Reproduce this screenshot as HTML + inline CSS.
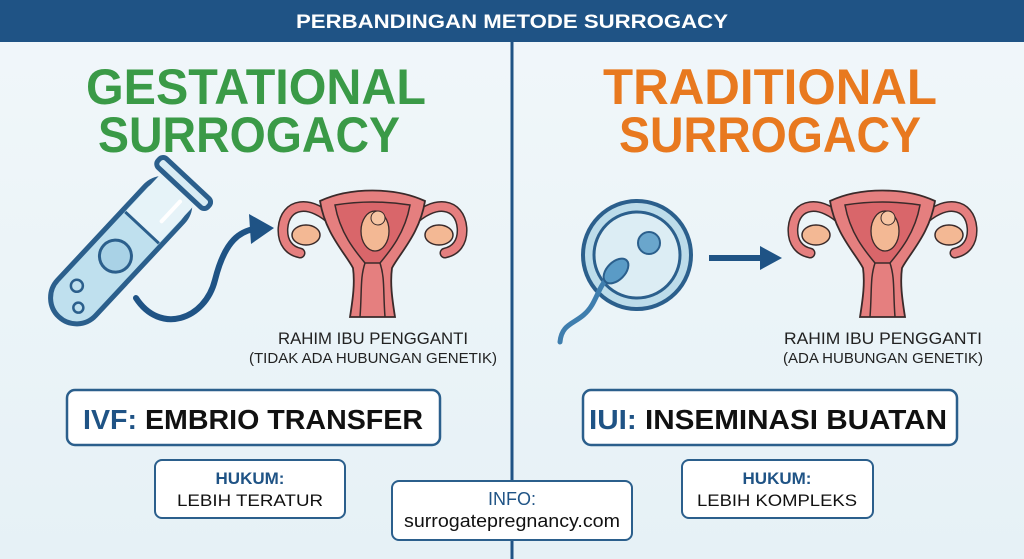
<!DOCTYPE html>
<html><head><meta charset="utf-8"><style>
html,body{margin:0;padding:0;width:1024px;height:559px;overflow:hidden;background:#eef5f9}
svg{display:block}
text{font-family:"Liberation Sans",sans-serif}
</style></head><body>
<svg width="1024" height="559" viewBox="0 0 1024 559" xmlns="http://www.w3.org/2000/svg">
<defs>
<linearGradient id="bg" x1="0" y1="0" x2="0" y2="1"><stop offset="0" stop-color="#f1f7fa"/><stop offset="1" stop-color="#e6f1f6"/></linearGradient>
<g id="uterus">
 <path d="M55,40 C30,15 5,20 3,45 C2,60 10,68 20,70" fill="none" stroke="#3a2a2a" stroke-width="11" stroke-linecap="round"/>
 <path d="M55,40 C30,15 5,20 3,45 C2,60 10,68 20,70" fill="none" stroke="#e57f7f" stroke-width="8" stroke-linecap="round"/>
 <path d="M130,40 C155,15 180,20 182,45 C183,60 175,68 165,70" fill="none" stroke="#3a2a2a" stroke-width="11" stroke-linecap="round"/>
 <path d="M130,40 C155,15 180,20 182,45 C183,60 175,68 165,70" fill="none" stroke="#e57f7f" stroke-width="8" stroke-linecap="round"/>
 <ellipse cx="26" cy="52" rx="14" ry="10" fill="#f3b894" stroke="#3a2a2a" stroke-width="1.5"/>
 <ellipse cx="159" cy="52" rx="14" ry="10" fill="#f3b894" stroke="#3a2a2a" stroke-width="1.5"/>
 <path d="M40,18 C70,4 115,4 145,18 C140,50 120,70 112,85 C110,100 112,115 115,134 L70,134 C73,115 75,100 73,85 C65,70 45,50 40,18 Z" fill="#e57f7f" stroke="#3a2a2a" stroke-width="1.8"/>
 <path d="M55,22 C80,18 105,18 130,22 C125,50 110,68 100,80 L85,80 C75,68 60,50 55,22Z" fill="#d9666a" stroke="#3a2a2a" stroke-width="1.5"/>
 <path d="M85,80 C80,95 82,108 80,134 M100,80 C105,95 103,108 105,134" fill="none" stroke="#3a2a2a" stroke-width="1.5"/>
 <ellipse cx="95" cy="48" rx="14" ry="20" fill="#f3b894" stroke="#3a2a2a" stroke-width="1.3"/>
 <circle cx="98" cy="35" r="7" fill="#f6c5a3" stroke="#3a2a2a" stroke-width="1"/>
</g>
</defs>
<rect width="1024" height="559" fill="url(#bg)"/>
<rect width="1024" height="42" fill="#1f5385"/>
<text x="512" y="28" text-anchor="middle" font-size="19" font-weight="bold" fill="#fff" textLength="432" lengthAdjust="spacingAndGlyphs">PERBANDINGAN METODE SURROGACY</text>
<line x1="512" y1="42" x2="512" y2="559" stroke="#1f5385" stroke-width="3"/>

<text x="256" y="104" text-anchor="middle" font-size="50" font-weight="bold" fill="#3a9a47" textLength="340" lengthAdjust="spacingAndGlyphs">GESTATIONAL</text>
<text x="249" y="152" text-anchor="middle" font-size="50" font-weight="bold" fill="#3a9a47" textLength="302" lengthAdjust="spacingAndGlyphs">SURROGACY</text>
<text x="770" y="104" text-anchor="middle" font-size="50" font-weight="bold" fill="#e8791f" textLength="334" lengthAdjust="spacingAndGlyphs">TRADITIONAL</text>
<text x="770" y="152" text-anchor="middle" font-size="50" font-weight="bold" fill="#e8791f" textLength="302" lengthAdjust="spacingAndGlyphs">SURROGACY</text>

<!-- test tube -->
<g transform="translate(110,262) rotate(43)">
 <rect x="-26" y="-105" width="52" height="180" rx="26" fill="#bfe0ee" stroke="#2b5f8c" stroke-width="5"/>
 <rect x="-23" y="-102" width="46" height="55" fill="#e6f3f8"/>
 <rect x="-34" y="-114" width="68" height="12" rx="5" fill="#d8ecf4" stroke="#2b5f8c" stroke-width="5"/>
 <line x1="-23" y1="-47" x2="23" y2="-47" stroke="#2b5f8c" stroke-width="3"/>
 <line x1="10" y1="-92" x2="10" y2="-65" stroke="#fff" stroke-width="4" stroke-linecap="round"/>
 <circle cx="0" cy="-8" r="16" fill="#a9d2e6" stroke="#2b5f8c" stroke-width="3"/>
 <circle cx="-8" cy="40" r="6" fill="none" stroke="#2b5f8c" stroke-width="2.5"/>
 <circle cx="8" cy="55" r="5" fill="none" stroke="#2b5f8c" stroke-width="2.5"/>
</g>
<path d="M136,298 C160,335 205,320 215,280 C225,240 240,230 260,228" fill="none" stroke="#1f5385" stroke-width="6" stroke-linecap="round"/>
<polygon points="249,214 274,228 251,244" fill="#1f5385"/>
<use href="#uterus" transform="translate(280,183)"/>
<text x="373" y="344" text-anchor="middle" font-size="17" fill="#222" textLength="190" lengthAdjust="spacingAndGlyphs">RAHIM IBU PENGGANTI</text>
<text x="373" y="363" text-anchor="middle" font-size="15" fill="#222" textLength="248" lengthAdjust="spacingAndGlyphs">(TIDAK ADA HUBUNGAN GENETIK)</text>

<circle cx="637" cy="255" r="54" fill="#bcdcea" stroke="#2b5f8c" stroke-width="4"/>
<circle cx="637" cy="255" r="43" fill="#dcedf4" stroke="#2b5f8c" stroke-width="3"/>
<circle cx="649" cy="243" r="11" fill="#6aa6cc" stroke="#2b5f8c" stroke-width="2"/>
<path d="M560,342 C562,320 580,325 592,305 C598,295 600,285 610,275" fill="none" stroke="#3f7eae" stroke-width="5" stroke-linecap="round"/>
<ellipse cx="616" cy="271" rx="9" ry="15" transform="rotate(45 616 271)" fill="#5a9bc6" stroke="#2b5f8c" stroke-width="2"/>
<line x1="709" y1="258" x2="763" y2="258" stroke="#1f5385" stroke-width="6"/>
<polygon points="760,246 782,258 760,270" fill="#1f5385"/>
<use href="#uterus" transform="translate(790,183)"/>
<text x="883" y="344" text-anchor="middle" font-size="17" fill="#222" textLength="198" lengthAdjust="spacingAndGlyphs">RAHIM IBU PENGGANTI</text>
<text x="883" y="363" text-anchor="middle" font-size="15" fill="#222" textLength="200" lengthAdjust="spacingAndGlyphs">(ADA HUBUNGAN GENETIK)</text>

<rect x="67" y="390" width="373" height="55" rx="8" fill="#fff" stroke="#2b5f8c" stroke-width="2.5"/>
<text x="253" y="429" text-anchor="middle" font-size="28" font-weight="bold" fill="#111" textLength="340" lengthAdjust="spacingAndGlyphs"><tspan fill="#1f5385">IVF:</tspan> EMBRIO TRANSFER</text>
<rect x="583" y="390" width="374" height="55" rx="8" fill="#fff" stroke="#2b5f8c" stroke-width="2.5"/>
<text x="768" y="429" text-anchor="middle" font-size="28" font-weight="bold" fill="#111" textLength="358" lengthAdjust="spacingAndGlyphs"><tspan fill="#1f5385">IUI:</tspan> INSEMINASI BUATAN</text>

<rect x="155" y="460" width="190" height="58" rx="7" fill="#fff" stroke="#2b5f8c" stroke-width="2"/>
<text x="250" y="484" text-anchor="middle" font-size="17" font-weight="bold" fill="#1f5385">HUKUM:</text>
<text x="250" y="506" text-anchor="middle" font-size="17" fill="#111" textLength="146" lengthAdjust="spacingAndGlyphs">LEBIH TERATUR</text>
<rect x="682" y="460" width="191" height="58" rx="7" fill="#fff" stroke="#2b5f8c" stroke-width="2"/>
<text x="777" y="484" text-anchor="middle" font-size="17" font-weight="bold" fill="#1f5385">HUKUM:</text>
<text x="777" y="506" text-anchor="middle" font-size="17" fill="#111" textLength="160" lengthAdjust="spacingAndGlyphs">LEBIH KOMPLEKS</text>

<rect x="392" y="481" width="240" height="59" rx="7" fill="#fff" stroke="#2b5f8c" stroke-width="2"/>
<text x="512" y="505" text-anchor="middle" font-size="18" fill="#1f5385">INFO:</text>
<text x="512" y="527" text-anchor="middle" font-size="18" fill="#111" textLength="216" lengthAdjust="spacingAndGlyphs">surrogatepregnancy.com</text>
</svg>
</body></html>
